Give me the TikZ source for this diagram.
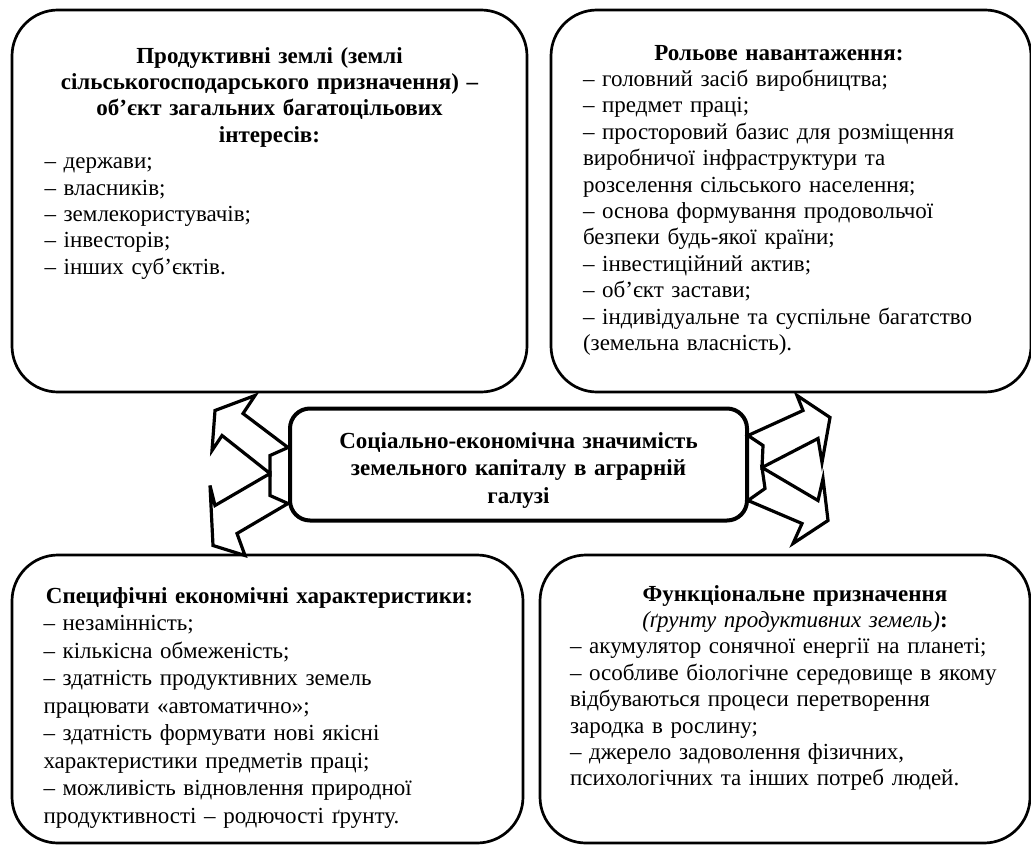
\documentclass[tikz,border=0pt]{standalone}
\usepackage{fontspec}
\setmainfont{Liberation Serif}
\usetikzlibrary{positioning}

\begin{document}
\begin{tikzpicture}[x=0.5pt, y=-0.5pt,
  box/.style={draw, line width=1.35pt, rounded corners=23pt, inner sep=0pt},
  mainbox/.style={draw, line width=2pt, rounded corners=10pt, inner sep=0pt,
    minimum width=228.5pt, minimum height=56pt},
  txt/.style={inner sep=0pt, font=\fontsize{11.5}{13.2}\selectfont},
  blockarrow/.style={draw, fill=white, line width=1.6pt, line join=miter}]

  \useasboundingbox (0,0) rectangle (1031,845);

  % Boxes
  \node[box, minimum width=257.5pt, minimum height=191pt] (prod) at (269.5,201) {}; % productive lands
  \node[box, minimum width=240pt, minimum height=191pt] (role) at (791,201) {};     % role load
  \node[box, minimum width=255.5pt, minimum height=144pt] (spec) at (267.5,699) {}; % specific features
  \node[box, minimum width=245pt, minimum height=144pt] (func) at (785,699) {};     % functional purpose
  \node[mainbox] (main) at (518.5,464.5) {};                                        % central box

  % Texts
  \node[txt, text width=215pt, align=center, font=\fontsize{11.5}{13.75}\selectfont\bfseries,
    below=12.75pt of main.north] (maintxt)
    {Соціально-економічна значимість\\ земельного капіталу в аграрній\\ галузі};
  \node[txt, text width=225pt, below=19pt of prod.north] (prodtxt)
    {{\centering\bfseries Продуктивні землі (землі\\ сільськогосподарського призначення)~–\\
      об’єкт загальних багатоцільових\\ інтересів:\par}
     \raggedright – держави;\\ – власників;\\ – землекористувачів;\\ – інвесторів;\\ – інших суб’єктів.};
  \node[txt, text width=196pt, below=18pt of role.north, xshift=-6pt] (roletxt)
    {{\centering\bfseries Рольове навантаження:\par}
     \raggedright – головний засіб виробництва;\\ – предмет праці;\\
     – просторовий базис для розміщення\\ виробничої інфраструктури та\\
     розселення сільського населення;\\ – основа формування продовольчої\\
     безпеки будь-якої країни;\\ – інвестиційний актив;\\ – об’єкт застави;\\
     – індивідуальне та суспільне багатство\\ (земельна власність).};
  \node[txt, text width=216pt, font=\fontsize{11.5}{13.75}\selectfont,
    below=16.5pt of spec.north, xshift=-4pt] (spectxt)
    {{\centering\bfseries Специфічні економічні характеристики:\par}
     \raggedright – незамінність;\\ – кількісна обмеженість;\\
     – здатність продуктивних земель\\ працювати «автоматично»;\\
     – здатність формувати нові якісні\\ характеристики предметів праці;\\
     – можливість відновлення природної\\ продуктивності – родючості ґрунту.};
  \node[txt, text width=225pt, below=15.5pt of func.north, xshift=5pt] (functxt)
    {{\centering\textbf{Функціональне призначення}\\ \textit{(ґрунту продуктивних земель)}\textbf{:}\par}
     \raggedright – акумулятор сонячної енергії на планеті;\\
     – особливе біологічне середовище в якому\\ відбуваються процеси перетворення\\
     зародка в рослину;\\ – джерело задоволення фізичних,\\
     психологічних та інших потреб людей.};

  % Arrows, left side
  \begin{scope}[shift={(main.west)}]
    \draw[blockarrow] (0,-17) -- (-45,-51) -- (-33,-69) -- (-73,-54) -- (-76,-14)
      -- (-66,-29) -- (-18,9) -- (-18,-9) -- cycle;  % up-left
    \draw[blockarrow] (-18,9) -- (-73,41) -- (-78,21) -- (-75,81) -- (-43,91)
      -- (-51,69) -- (0,39) -- (-18,31) -- cycle;    % down-left
  \end{scope}

  % Arrows, right side
  \begin{scope}[shift={(main.east)}]
    \draw[blockarrow] (-1,-29) -- (54,-54) -- (48,-69) -- (81,-47) -- (73,-2)
      -- (69,-26) -- (13,3) -- (14,-19) -- cycle;    % up-right
    \draw[blockarrow] (13,3) -- (69,36) -- (74,14) -- (79,56) -- (44,79)
      -- (53,59) -- (-1,36) -- (16,24) -- cycle;     % down-right
  \end{scope}

\end{tikzpicture}
\end{document}
